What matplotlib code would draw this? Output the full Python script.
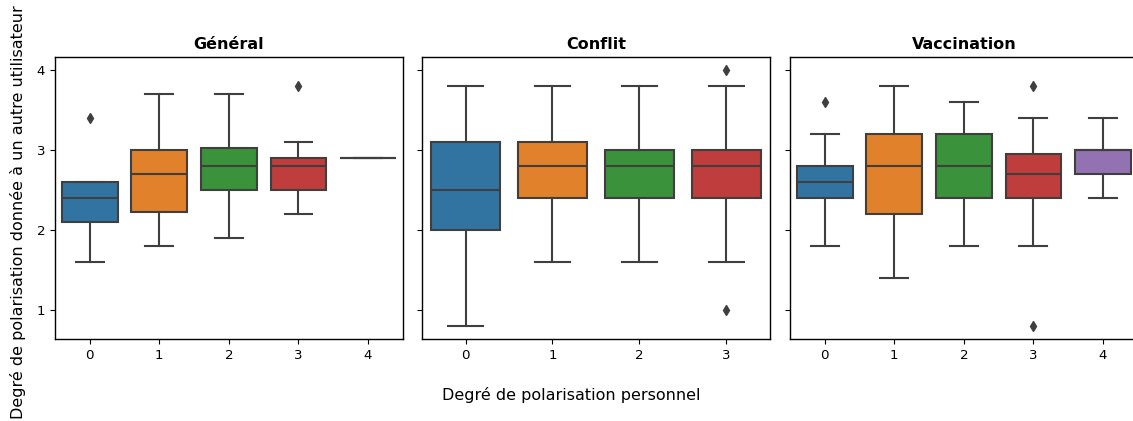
import matplotlib
matplotlib.use("Agg")
import matplotlib.pyplot as plt

# Box statistics per panel: (whisker low, Q1, median, Q3, whisker high, outliers)
titles = ["Général", "Conflit", "Vaccination"]

general_stats = [
    (1.6, 2.1, 2.4, 2.6, 2.6, [3.4]),
    (1.8, 2.22, 2.7, 3.0, 3.7, []),
    (1.9, 2.5, 2.8, 3.02, 3.7, []),
    (2.2, 2.5, 2.8, 2.9, 3.1, [3.8]),
    (2.9, 2.9, 2.9, 2.9, 2.9, []),
]
conflit_stats = [
    (0.8, 2.0, 2.5, 3.1, 3.8, []),
    (1.6, 2.4, 2.8, 3.1, 3.8, []),
    (1.6, 2.4, 2.8, 3.0, 3.8, []),
    (1.6, 2.4, 2.8, 3.0, 3.8, [4.0, 1.0]),
]
vaccination_stats = [
    (1.8, 2.4, 2.6, 2.8, 3.2, [3.6]),
    (1.4, 2.2, 2.8, 3.2, 3.8, []),
    (1.8, 2.4, 2.8, 3.2, 3.6, []),
    (1.8, 2.4, 2.7, 2.95, 3.4, [3.8, 0.8]),
    (2.4, 2.7, 3.0, 3.0, 3.4, []),
]
panels = [general_stats, conflit_stats, vaccination_stats]

box_colors = ["#3274a1", "#e1812c", "#3a923a", "#c03d3e", "#9372b2"]
line_color = "#3f3f3f"

fig = plt.figure(figsize=(11.33, 4.21), dpi=100)
ax_w = 0.307
ax_b = 0.1948
ax_h = 0.8646 - 0.1948
lefts = [0.0485, 0.3725, 0.6972]
axes = []
for i, left in enumerate(lefts):
    ax = fig.add_axes([left, ax_b, ax_w, ax_h],
                      sharey=axes[0] if axes else None)
    axes.append(ax)

for ax, title, stats in zip(axes, titles, panels):
    bxp_stats = []
    for (lo, q1, med, q3, hi, fl) in stats:
        bxp_stats.append(dict(whislo=lo, q1=q1, med=med, q3=q3,
                              whishi=hi, fliers=fl))
    positions = list(range(len(stats)))
    res = ax.bxp(bxp_stats, positions=positions, widths=0.8,
                 patch_artist=True, showfliers=True,
                 boxprops=dict(edgecolor=line_color, linewidth=1.5),
                 medianprops=dict(color=line_color, linewidth=1.5),
                 whiskerprops=dict(color=line_color, linewidth=1.5),
                 capprops=dict(color=line_color, linewidth=1.5),
                 flierprops=dict(marker="d", markerfacecolor=line_color,
                                 markeredgecolor=line_color, markersize=5,
                                 linestyle="none"))
    for patch, c in zip(res["boxes"], box_colors):
        patch.set_facecolor(c)
    for cap in res["caps"]:
        x = cap.get_xdata()
        mid = (x[0] + x[1]) / 2
        cap.set_xdata([mid - 0.2, mid + 0.2])
    ax.set_xlim(-0.5, len(stats) - 0.5)
    ax.set_xticks(positions)
    ax.set_xticklabels([str(p) for p in positions])
    ax.set_title(title, fontsize=11.5, fontweight="bold")
    ax.tick_params(labelsize=9.6)
    for s in ax.spines.values():
        s.set_linewidth(1.0)

axes[0].set_ylim(0.64, 4.16)
axes[0].set_yticks([1, 2, 3, 4])
for ax in axes[1:]:
    ax.tick_params(labelleft=False)

fig.text(0.504, 0.062, "Degré de polarisation personnel", ha="center",
         va="center", fontsize=11.5)
fig.text(0.016, 0.496, "Degré de polarisation donnée à un autre utilisateur",
         ha="center", va="center", rotation=90, fontsize=11.5)

fig.savefig("out.png", dpi=100)
